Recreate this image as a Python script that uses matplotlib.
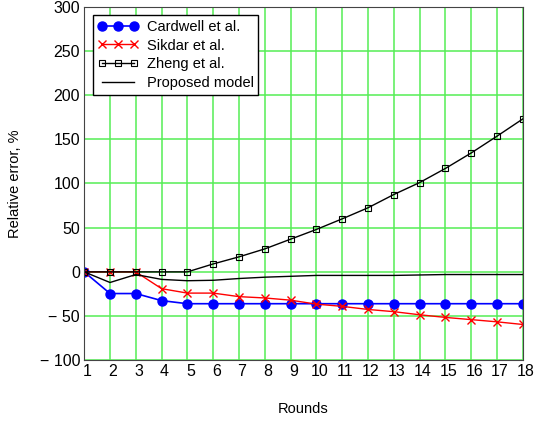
import matplotlib
matplotlib.use('Agg')
import matplotlib.pyplot as plt
import matplotlib.transforms as mtransforms

plt.rcParams['font.family'] = ['Liberation Sans', 'DejaVu Sans']
plt.rcParams['font.size'] = 10.5

rounds = list(range(1, 19))
cardwell = [0, -24.5, -24.5, -32.5, -36, -36, -36, -36, -36,
            -36, -36, -36, -36, -36, -36, -36, -36, -36]
sikdar = [0, 0, 0, -19, -24, -24, -28, -29.5, -32,
          -36.5, -39, -42.5, -45, -48.5, -51.5, -54, -56.5, -59.5]
zheng = [0, 0, 0, 0, 0, 9, 17, 26, 37,
         48, 60, 72.5, 87.5, 101, 117, 134.5, 153.5, 173]
proposed = [0, -12, -3, -8.5, -10, -9.5, -7.5, -6, -5,
            -4, -4, -4, -4, -3.5, -3, -3, -3, -3]
ytick_vals = list(range(-100, 301, 50))
ytick_labels = ['\u2212 100', '\u2212 50', '0', '50', '100', '150', '200', '250', '300']

fig = plt.figure(figsize=(5.35, 4.21), dpi=100)
ax = fig.add_axes([0.1574, 0.1442, 0.8198, 0.84])

ax.plot(rounds, cardwell, color='blue', marker='o', markersize=6.5, lw=1.2, label='Cardwell et al.')
ax.plot(rounds, sikdar, color='red', marker='x', markersize=6, lw=1, label='Sikdar et al.')
ax.plot(rounds, zheng, color='black', marker='s', markersize=5, mfc='none', mew=0.8, lw=1,
        label='Zheng et al.')
ax.plot(rounds, proposed, color='black', lw=1, label='Proposed model')

ax.set_xlim(1, 18)
ax.set_ylim(-100, 300)
ax.set_xticks(rounds)
ax.set_yticks(ytick_vals)
ax.set_yticklabels(ytick_labels)
ax.grid(True, color='#55ee55', lw=1.1)
ax.set_axisbelow(True)
ax.tick_params(length=0, labelsize=11.5, pad=3)
for s in ax.spines.values():
    s.set_color('#444444')

# x tick labels sit a little right of their gridlines in the original
shift = mtransforms.ScaledTranslation(3 / 100, 0, fig.dpi_scale_trans)
for lbl in ax.get_xticklabels():
    lbl.set_transform(lbl.get_transform() + shift)

ax.set_xlabel('Rounds')
ax.xaxis.set_label_coords(0.5, -0.118)
ax.set_ylabel('Relative error, %')
ax.yaxis.set_label_coords(-0.142, 0.5)

leg = ax.legend(loc='upper left', fancybox=False, framealpha=1, edgecolor='black',
                borderaxespad=0.6, numpoints=3, handlelength=2.8, handletextpad=0.6,
                labelspacing=0.33, borderpad=0.3)
leg.get_frame().set_linewidth(1)

fig.savefig('out.png', dpi=100)
